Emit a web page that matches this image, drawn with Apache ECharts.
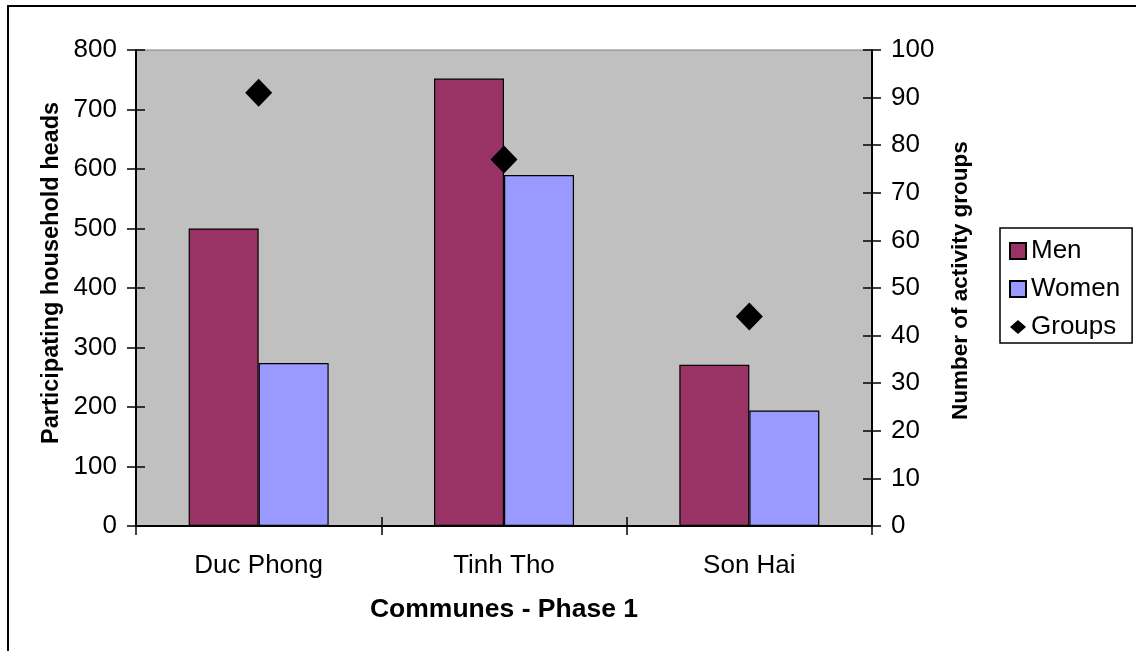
<!DOCTYPE html>
<html>
<head>
<meta charset="utf-8">
<title>Communes - Phase 1</title>
<script src="https://cdn.jsdelivr.net/npm/echarts@6/dist/echarts.min.js"></script>
<style>
  html, body { margin: 0; padding: 0; background: #ffffff; }
  #chart { width: 1136px; height: 651px; }
</style>
</head>
<body>
<div id="chart"></div>
<script>
// Participating household heads (men / women) and activity groups per commune
const communes = ['Duc Phong', 'Tinh Tho', 'Son Hai'];
const men = [500, 752, 271];
const women = [274, 590, 194];
const groups = [91, 77, 44];

// Axis ranges
const headsMin = 0, headsMax = 800, headsStep = 100;
const groupsMin = 0, groupsMax = 100, groupsStep = 10;

const FONT = "'Liberation Sans', Arial, sans-serif";
const chart = echarts.init(document.getElementById('chart'), null, { renderer: 'canvas' });

// Tick marks that cross the axis line: one axis draws the outer half, a twin draws the inner half
const crossTick = (inside) => ({
  show: true, inside: inside, length: 9,
  lineStyle: { color: '#000', width: 1.5 }
});

const option = {
  backgroundColor: '#ffffff',
  animation: false,
  grid: {
    left: 136, top: 50, width: 736, height: 476,
    show: true, backgroundColor: '#C0C0C0', borderColor: '#808080', borderWidth: 1
  },
  legend: {
    orient: 'vertical',
    left: 1000, top: 228,
    padding: [10, 12, 3, 9],
    itemGap: 12,
    itemWidth: 16, itemHeight: 16,
    borderColor: '#000', borderWidth: 1.5,
    backgroundColor: '#ffffff',
    textStyle: { fontFamily: FONT, fontSize: 26, color: '#000' },
    data: [
      { name: 'Men', icon: 'rect' },
      { name: 'Women', icon: 'rect' },
      { name: 'Groups', icon: 'path://M0,8L9,0L18,8L9,16Z' }
    ]
  },
  xAxis: [
    {
      type: 'category', data: communes, position: 'bottom',
      boundaryGap: true,
      axisLine: { show: true, lineStyle: { color: '#000', width: 2 } },
      axisTick: crossTick(false),
      axisLabel: { fontFamily: FONT, fontSize: 26, color: '#000', margin: 27 },
      splitLine: { show: false }
    },
    {
      type: 'category', data: communes, position: 'bottom', offset: 0,
      boundaryGap: true,
      axisLine: { show: false },
      axisTick: crossTick(true),
      axisLabel: { show: false },
      splitLine: { show: false }
    }
  ],
  yAxis: [
    {
      type: 'value', position: 'left',
      min: headsMin, max: headsMax, interval: headsStep,
      axisLine: { show: true, lineStyle: { color: '#000', width: 2 } },
      axisTick: crossTick(false),
      axisLabel: { fontFamily: FONT, fontSize: 26, color: '#000', margin: 19 },
      splitLine: { show: false }
    },
    {
      type: 'value', position: 'right',
      min: groupsMin, max: groupsMax, interval: groupsStep,
      axisLine: { show: true, lineStyle: { color: '#000', width: 2 } },
      axisTick: crossTick(false),
      axisLabel: { fontFamily: FONT, fontSize: 26, color: '#000', margin: 19 },
      splitLine: { show: false }
    },
    {
      type: 'value', position: 'left', offset: 0,
      min: headsMin, max: headsMax, interval: headsStep,
      axisLine: { show: false }, axisTick: crossTick(true),
      axisLabel: { show: false }, splitLine: { show: false }
    },
    {
      type: 'value', position: 'right', offset: 0,
      min: groupsMin, max: groupsMax, interval: groupsStep,
      axisLine: { show: false }, axisTick: crossTick(true),
      axisLabel: { show: false }, splitLine: { show: false }
    }
  ],
  series: [
    {
      name: 'Men', type: 'bar', data: men, yAxisIndex: 0,
      barWidth: 70, barGap: '0%',
      itemStyle: { color: '#993366', borderColor: '#000', borderWidth: 1.2 }
    },
    {
      name: 'Women', type: 'bar', data: women, yAxisIndex: 0,
      barWidth: 70, barGap: '0%',
      itemStyle: { color: '#9999FF', borderColor: '#000', borderWidth: 1.2 }
    },
    {
      name: 'Groups', type: 'scatter', data: groups, yAxisIndex: 1,
      symbol: 'diamond', symbolSize: [27, 28], z: 5,
      itemStyle: { color: '#000', opacity: 1 }
    }
  ],
  graphic: [
    {
      // outer frame of the chart area
      type: 'rect', silent: true, z: 100,
      shape: { x: 8, y: 6, width: 1200, height: 700 },
      style: { fill: 'none', stroke: '#000', lineWidth: 2 }
    },
    {
      type: 'text', silent: true,
      x: 52, y: 444, rotation: Math.PI / 2,
      style: {
        text: 'Participating household heads',
        fontFamily: FONT, fontSize: 23.5, fontWeight: 'bold', fill: '#000',
        textAlign: 'left', textVerticalAlign: 'middle'
      }
    },
    {
      type: 'text', silent: true,
      x: 961, y: 420, rotation: Math.PI / 2,
      style: {
        text: 'Number of activity groups',
        fontFamily: FONT, fontSize: 22.5, fontWeight: 'bold', fill: '#000',
        textAlign: 'left', textVerticalAlign: 'middle'
      }
    },
    {
      type: 'text', silent: true,
      x: 504, y: 610,
      style: {
        text: 'Communes - Phase 1',
        fontFamily: FONT, fontSize: 26.5, fontWeight: 'bold', fill: '#000',
        textAlign: 'center', textVerticalAlign: 'middle'
      }
    }
  ]
};

chart.setOption(option);
</script>
</body>
</html>
